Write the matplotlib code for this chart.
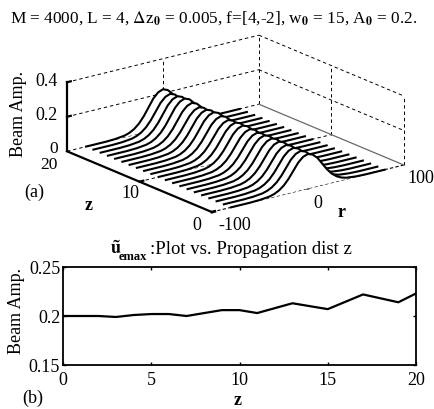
import matplotlib
matplotlib.use("Agg")
import matplotlib.pyplot as plt
from mpl_toolkits.mplot3d.art3d import Poly3DCollection

plt.rcParams['font.family'] = ['Liberation Serif', 'DejaVu Serif']
plt.rcParams['mathtext.fontset'] = 'stix'

# beam profile, as a fraction of the peak
r_values = [-80, -60, -50, -40, -35, -30, -25, -20, -15, -10, -5, 0, 5, 10, 15, 20, 25, 30, 35, 40, 50, 60, 80]
profile = [0.0, 0.0, 0.01, 0.04, 0.08, 0.15, 0.26, 0.42, 0.62, 0.82, 0.95, 1.0, 0.95, 0.82, 0.62, 0.42, 0.26, 0.15, 0.08, 0.04, 0.01, 0.0, 0.0]

z_values = [0, 1, 2, 3, 4, 5, 6, 7, 8, 9, 10, 11, 12, 13, 14, 15, 16, 17, 18, 19, 20]
peak = [0.2, 0.2, 0.2, 0.199, 0.201, 0.202, 0.202, 0.2, 0.203, 0.206, 0.206, 0.203, 0.208, 0.213, 0.21, 0.207, 0.2145, 0.222, 0.218, 0.214, 0.223]

z_ticks = [0, 5, 10, 15, 20]
amp_ticks = [0.15, 0.2, 0.25]


def draw_surface(ax):
	for i in range(len(z_values) - 1, -1, -1):
		z = z_values[i]
		amp = [p * peak[i] for p in profile]
		verts = [(r, z, a) for r, a in zip(r_values, amp)]
		verts = verts + [(r_values[-1], z, 0), (r_values[0], z, 0)]
		poly = Poly3DCollection([verts], facecolors='white', edgecolors='none', zorder=10 + 2 * (20 - i))
		ax.add_collection3d(poly)
		ax.plot(r_values, [z] * len(r_values), amp, color='black', lw=1.5, zorder=11 + 2 * (20 - i))


def draw_box(ax):
	dash = dict(color='black', lw=0.7, ls=(0, (3.5, 3)), zorder=1)
	for a in [0.2, 0.4]:
		ax.plot([-100, -96], [20, 20], [a, a], color='black', lw=1.6, zorder=3)
		ax.plot([-100, 100], [20, 20], [a, a], **dash)
		ax.plot([100, 100], [20, 0], [a, a], **dash)
	for r in [0, 100]:
		ax.plot([r, r], [20, 20], [0, 0.4], **dash)
	for z in [10, 0]:
		ax.plot([100, 100], [z, z], [0, 0.4], **dash)
	ax.plot([-100, -100], [20, 20], [0, 0.4], color='black', lw=1.6, zorder=3)
	ax.plot([-100, -100], [0, 20], [0, 0], color='black', lw=1.6, zorder=3)
	ax.plot([-100, 100], [0, 0], [0, 0], color='black', lw=0.8, ls=(0, (3, 2)), zorder=3)
	ax.plot([-100, 100], [20, 20], [0, 0], **dash)
	ax.plot([100, 100], [0, 20], [0, 0], color='dimgray', lw=0.9, zorder=3)
	ax.plot([-100, 100], [10, 10], [0, 0], **dash)
	ax.plot([0, 0], [0, 20], [0, 0], **dash)
	# short tick marks on the z and r axes
	ax.plot([-100, -96], [10, 10], [0, 0], color='black', lw=1.6, zorder=3)
	ax.plot([0, 0], [0, 0.7], [0, 0], color='black', lw=1.6, zorder=3)
	ax.plot([-100, -97], [0, 0], [0, 0], color='black', lw=2, zorder=60)


def top_panel(fig):
	ax = fig.add_axes([12 / 435, 62 / 410, 1.0, 435 / 410], projection='3d', proj_type='ortho', computed_zorder=False)
	ax.view_init(elev=18.7, azim=-127.4)
	ax.set_box_aspect((242, 239, 73), zoom=0.775)
	ax.set_xlim(-100, 100)
	ax.set_ylim(0, 20)
	ax.set_zlim(0, 0.4)
	ax.set_axis_off()
	ax.patch.set_alpha(0)
	draw_box(ax)
	draw_surface(ax)


def bottom_panel(fig):
	ax = fig.add_axes([63 / 435, 1 - 366 / 410, 353 / 435, 98 / 410])
	ax.plot(z_values, peak, color='black', lw=1.6)
	ax.set_xlim(0, 20)
	ax.set_ylim(0.15, 0.25)
	ax.set_xticks(z_ticks)
	ax.set_yticks(amp_ticks)
	ax.set_yticklabels(['0.15', '0.2', '0.25'])
	ax.tick_params(direction='in', length=2.5, width=1, labelsize=13, top=True, right=True)
	ax.tick_params(axis='x', pad=4)
	ax.tick_params(axis='y', pad=2)
	for s in ax.spines.values():
		s.set_linewidth(1.3)


fig = plt.figure(figsize=(4.35, 4.10), dpi=100)
top_panel(fig)
bottom_panel(fig)


def label(x, y, s, size=13, ha='center', **kw):
	fig.text(x / 435, 1 - y / 410, s, fontsize=size, ha=ha, va='center', **kw)


label(10, 18, r'M = 4000, L = 4, $\Delta$z$_{\mathbf{0}}$ = 0.005, f=[4,-2], w$_{\mathbf{0}}$ = 15, A$_{\mathbf{0}}$ = 0.2.', size=12.4, ha='left')
label(19, 114, 'Beam Amp.', rotation=90)
label(17, 311, 'Beam Amp.', rotation=90)
label(58, 82, '0.4', ha='right')
label(58, 116, '0.2', ha='right')
label(58, 149, '0', size=12.5, ha='right')
label(58, 165, '20', size=12.5, ha='right')
label(139, 194, '10', ha='right')
label(201, 226, '0', ha='right')
label(235, 226, '-100')
label(318, 204, '0')
label(421, 179, '100')
label(34, 192, '(a)')
label(89, 206, 'z', fontweight='bold')
label(342, 213, 'r', fontweight='bold')
label(33, 398, '(b)')
label(238, 401, 'z', fontweight='bold')
label(110, 249, r'$\mathbf{\tilde{u}}$', ha='left')
label(119, 257, 'emax', size=9, ha='left', fontweight='bold')
label(150, 249, ':Plot vs. Propagation dist z', size=13.5, ha='left')

plt.savefig('out.png', dpi=100)
plt.close()
